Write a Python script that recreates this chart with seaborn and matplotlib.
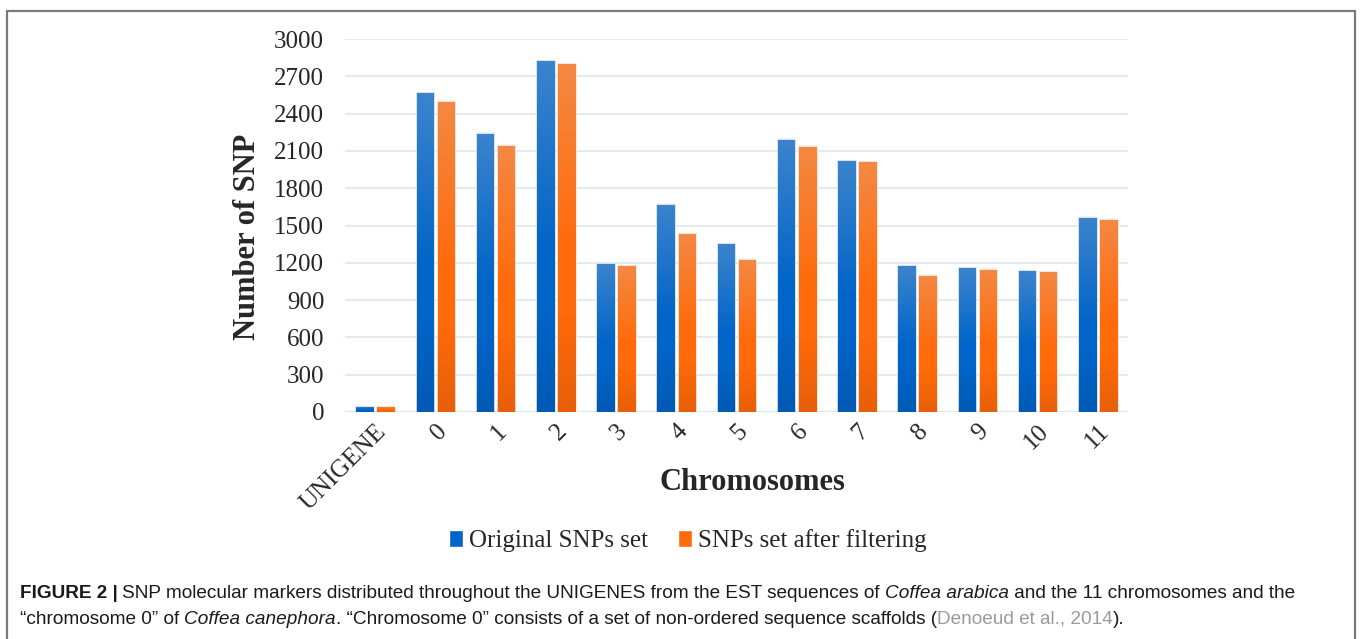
import numpy as np
import pandas as pd
import seaborn as sns
import matplotlib.pyplot as plt
from matplotlib.lines import Line2D
from matplotlib.patches import Patch

# Data
chromosomes = ['UNIGENE', '0', '1', '2', '3', '4', '5', '6', '7', '8', '9', '10', '11']
original = [46, 2571, 2246, 2829, 1196, 1674, 1357, 2198, 2023, 1182, 1164, 1142, 1572]
filtered = [45, 2504, 2150, 2805, 1182, 1438, 1231, 2141, 2018, 1102, 1153, 1134, 1553]
series = ['Original SNPs set', 'SNPs set after filtering']

df = pd.DataFrame({
    'Chromosome': chromosomes * 2,
    'SNP': original + filtered,
    'Set': [series[0]] * len(chromosomes) + [series[1]] * len(chromosomes),
})

blue = '#0064c8'
orange = '#ff6a0a'

sns.set_theme(style='white')
plt.rcParams['font.family'] = ['Liberation Serif', 'DejaVu Serif']

fig = plt.figure(figsize=(13.6, 6.39), dpi=100)
ax = fig.add_axes([345 / 1360, 1 - 412 / 639, 783 / 1360, 373 / 639])

sns.barplot(data=df, x='Chromosome', y='SNP', hue='Set', order=chromosomes,
            palette=[blue, orange], saturation=1, width=0.7, gap=0.12, ax=ax,
            legend=False, edgecolor='#ffffff', linewidth=0.5)

# soft vertical gradient: lighter/greyer at the top, slightly darker at the bottom
n = 256
g = np.linspace(0, 1, n)
for p in ax.patches:
    h = p.get_height()
    if h <= 0:
        continue
    x0, w = p.get_x(), p.get_width()
    rgba = np.zeros((n, 1, 4))
    light = np.clip((g - 0.45) / 0.55, 0, 1)
    dark = np.clip((0.3 - g) / 0.3, 0, 1)
    rgba[:, 0, :3] = np.where(light[:, None] > 0, 0.85, 0.0)
    rgba[:, 0, 3] = np.maximum(light * 0.28, dark * 0.10)
    ax.imshow(rgba, extent=[x0, x0 + w, 0, h], aspect='auto', origin='lower',
              clip_path=p, zorder=p.get_zorder() + 0.1, interpolation='bilinear')

ax.set_xlim(-0.5, len(chromosomes) - 0.5)
ax.set_ylim(0, 3000)
ax.set_yticks(np.arange(0, 3001, 300))
ax.yaxis.grid(True, color='#dfe6ee', linewidth=1.2)
ax.set_axisbelow(True)
sns.despine(ax=ax, left=True, top=True, right=True, bottom=True)
ax.axhline(0, color='#dfe6ee', linewidth=1.5, zorder=0)

ax.tick_params(axis='y', labelsize=18, length=0, pad=15)
ax.tick_params(axis='x', labelsize=18, length=0, pad=6)
for lab in ax.get_xticklabels():
    lab.set_rotation(45)
    lab.set_ha('right')
    lab.set_rotation_mode('anchor')

ax.set_xlabel('Chromosomes', fontsize=22, fontweight='bold')
ax.xaxis.set_label_coords(0.52, -0.150)
ax.set_ylabel('Number of SNP', fontsize=22, fontweight='bold')
ax.yaxis.set_label_coords(-0.106, 0.47)

handles = [Patch(facecolor=blue), Patch(facecolor=orange)]
fig.legend(handles, series, loc='center', bbox_to_anchor=(688 / 1360, 1 - 541 / 639),
           ncol=2, frameon=False, fontsize=18, handlelength=0.55, handleheight=0.65,
           handletextpad=0.25, columnspacing=1.2)

# frame around the figure panel (open at the bottom)
fr = dict(color='#7a7a7a', linewidth=1.6, transform=fig.transFigure)
fig.add_artist(Line2D([7 / 1360, 7 / 1360], [0, 1 - 11 / 639], **fr))
fig.add_artist(Line2D([7 / 1360, 1355 / 1360], [1 - 11 / 639, 1 - 11 / 639], **fr))
fig.add_artist(Line2D([1355 / 1360, 1355 / 1360], [0, 1 - 11 / 639], **fr))

# caption
cap = ['Liberation Sans Narrow', 'Liberation Sans', 'DejaVu Sans']
fs = 13.7
y1 = 1 - 593 / 639
y2 = 1 - 619 / 639
t = fig.text(20 / 1360, y1, 'FIGURE 2 |', family=cap, fontsize=fs, fontweight='bold',
             color='#1a1a1a', va='center')
fig.canvas.draw()
x = t.get_window_extent().x1 / 1360 + 4 / 1360
parts1 = [('SNP molecular markers distributed throughout the UNIGENES from the EST sequences of ', 'normal', '#1a1a1a'),
          ('Coffea arabica', 'italic', '#1a1a1a'),
          (' and the 11 chromosomes and the', 'normal', '#1a1a1a')]
parts2 = [('\u201cchromosome 0\u201d of ', 'normal', '#1a1a1a'),
          ('Coffea canephora', 'italic', '#1a1a1a'),
          ('. \u201cChromosome 0\u201d consists of a set of non-ordered sequence scaffolds (', 'normal', '#1a1a1a'),
          ('Denoeud et al., 2014', 'normal', '#9a9a9a'),
          (').', 'normal', '#1a1a1a')]
for parts, xs, yy in [(parts1, x, y1), (parts2, 20 / 1360, y2)]:
    for s, style, c in parts:
        tt = fig.text(xs, yy, s, family=cap, fontsize=fs, style=style, color=c, va='center')
        fig.canvas.draw()
        xs = tt.get_window_extent().x1 / 1360

fig.savefig('out.png', dpi=100)
